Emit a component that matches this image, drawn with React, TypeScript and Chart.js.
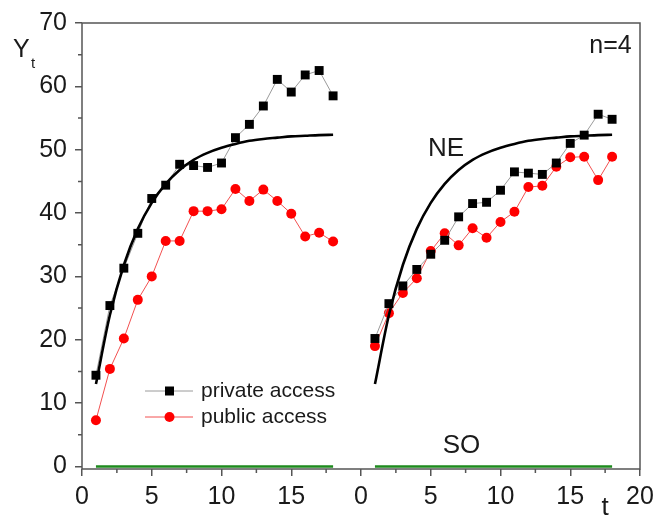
import React, { useEffect, useRef } from 'react';
import { Chart, registerables } from 'chart.js';
Chart.register(...registerables);

const FONT = '"Liberation Sans", Arial, Helvetica, sans-serif';

// time steps for each panel
const T = [1, 2, 3, 4, 5, 6, 7, 8, 9, 10, 11, 12, 13, 14, 15, 16, 17, 18];
// right panel is drawn on the same axis, shifted by this many units
const PANEL_OFFSET = 20;

const PRIVATE_LEFT = [14.4, 25.4, 31.3, 36.8, 42.3, 44.4, 47.7, 47.5, 47.2, 47.9, 51.9, 54.0, 56.9, 61.1, 59.1, 61.8, 62.5, 58.5];
const PUBLIC_LEFT = [7.3, 15.4, 20.2, 26.3, 30.0, 35.6, 35.6, 40.3, 40.3, 40.6, 43.8, 41.9, 43.7, 41.9, 39.9, 36.3, 36.9, 35.5];
const PRIVATE_RIGHT = [20.2, 25.7, 28.5, 31.1, 33.5, 35.7, 39.4, 41.5, 41.7, 43.6, 46.5, 46.3, 46.1, 47.9, 51.0, 52.3, 55.6, 54.8];
const PUBLIC_RIGHT = [19.0, 24.2, 27.4, 29.7, 34.0, 36.8, 34.9, 37.6, 36.1, 38.6, 40.2, 44.1, 44.3, 47.3, 48.8, 48.9, 45.2, 48.9];
const NE_CURVE = [13.0, 23.9, 31.8, 37.5, 41.6, 44.6, 46.8, 48.4, 49.5, 50.3, 50.9, 51.4, 51.7, 51.9, 52.1, 52.2, 52.3, 52.35];
const SO_LEVEL = [0, 0, 0, 0, 0, 0, 0, 0, 0, 0, 0, 0, 0, 0, 0, 0, 0, 0];

const Y_TICKS = [0, 10, 20, 30, 40, 50, 60, 70];
const Y_MINOR = [5, 15, 25, 35, 45, 55, 65];
const X_MINOR = [2.5, 7.5, 12.5, 17.5, 22.5, 27.5, 32.5, 37.5];

function panelPoints(left: number[], right: number[]) {
  return [
    ...T.map((t, i) => ({ x: t, y: left[i] })),
    { x: (T[T.length - 1] + PANEL_OFFSET + T[0]) / 2, y: null as any },
    ...T.map((t, i) => ({ x: t + PANEL_OFFSET, y: right[i] })),
  ];
}

export default function App() {
  const ref = useRef<HTMLCanvasElement>(null);
  useEffect(() => {
    document.body.style.margin = '0';
    const canvas = ref.current!;

    const overlay = {
      id: 'overlay',
      afterDraw(chart: any) {
        const { ctx, chartArea } = chart;
        const xs = chart.scales.x;
        const ys = chart.scales.y;
        ctx.save();
        // frame
        ctx.strokeStyle = '#555';
        ctx.lineWidth = 1.5;
        ctx.strokeRect(chartArea.left, chartArea.top, chartArea.right - chartArea.left, chartArea.bottom - chartArea.top);
        // minor ticks
        ctx.beginPath();
        X_MINOR.forEach((v) => {
          const px = xs.getPixelForValue(v);
          ctx.moveTo(px, chartArea.bottom);
          ctx.lineTo(px, chartArea.bottom + 4);
        });
        Y_MINOR.forEach((v) => {
          const py = ys.getPixelForValue(v);
          ctx.moveTo(chartArea.left, py);
          ctx.lineTo(chartArea.left - 4, py);
        });
        ctx.stroke();

        ctx.fillStyle = '#1a1a1a';
        ctx.textBaseline = 'alphabetic';
        // y title
        ctx.textAlign = 'left';
        ctx.font = `25px ${FONT}`;
        ctx.fillText('Y', 13, 57);
        ctx.font = `15px ${FONT}`;
        ctx.fillText('t', 31, 68);
        // x title
        ctx.textAlign = 'center';
        ctx.font = `26px ${FONT}`;
        ctx.fillText('t', 605, 515);

        // annotations
        ctx.textBaseline = 'middle';
        ctx.font = `25px ${FONT}`;
        ctx.textAlign = 'right';
        ctx.fillText('n=4', xs.getPixelForValue(39.4), ys.getPixelForValue(66.3));
        ctx.font = `26px ${FONT}`;
        ctx.textAlign = 'center';
        ctx.fillText('NE', xs.getPixelForValue(26.1), ys.getPixelForValue(50.2));
        ctx.fillText('SO', xs.getPixelForValue(27.2), ys.getPixelForValue(3.2));

        // legend
        const items = [chart.data.datasets[0], chart.data.datasets[1]];
        items.forEach((ds: any, i: number) => {
          const cy = 391 + i * 26;
          ctx.strokeStyle = ds.borderColor;
          ctx.lineWidth = 1;
          ctx.beginPath();
          ctx.moveTo(145, cy);
          ctx.lineTo(193, cy);
          ctx.stroke();
          ctx.fillStyle = ds.pointBackgroundColor;
          if (ds.pointStyle === 'rect') {
            ctx.fillRect(165, cy - 4.5, 9, 9);
          } else {
            ctx.beginPath();
            ctx.arc(169.5, cy, 5, 0, Math.PI * 2);
            ctx.fill();
          }
          ctx.fillStyle = '#1a1a1a';
          ctx.textAlign = 'left';
          ctx.textBaseline = 'middle';
          ctx.font = `21px ${FONT}`;
          ctx.fillText(ds.label, 201, cy);
        });
        ctx.restore();
      },
    };

    const chart = new Chart(canvas, {
      type: 'line',
      data: {
        datasets: [
          {
            label: 'private access',
            data: panelPoints(PRIVATE_LEFT, PRIVATE_RIGHT),
            borderColor: '#9a9a9a',
            borderWidth: 1,
            pointStyle: 'rect',
            pointRadius: 6.3,
            pointBackgroundColor: '#000',
            pointBorderWidth: 0,
            spanGaps: false,
            order: 2,
          },
          {
            label: 'public access',
            data: panelPoints(PUBLIC_LEFT, PUBLIC_RIGHT),
            borderColor: '#f25050',
            borderWidth: 1,
            pointStyle: 'circle',
            pointRadius: 5,
            pointBackgroundColor: '#ff0000',
            pointBorderWidth: 0,
            spanGaps: false,
            order: 3,
          },
          {
            label: 'NE',
            data: panelPoints(NE_CURVE, NE_CURVE),
            borderColor: '#000',
            borderWidth: 2.6,
            pointRadius: 0,
            cubicInterpolationMode: 'monotone',
            spanGaps: false,
            order: 1,
          },
          {
            label: 'SO',
            data: panelPoints(SO_LEVEL, SO_LEVEL),
            borderColor: '#1e8a1e',
            borderWidth: 2.6,
            pointRadius: 0,
            spanGaps: false,
            order: 4,
          },
        ],
      },
      options: {
        responsive: false,
        animation: false,
        layout: { padding: { top: 20, right: 28, left: 0, bottom: 0 } },
        plugins: { legend: { display: false }, tooltip: { enabled: false } },
        scales: {
          x: {
            type: 'linear',
            min: 0,
            max: 40,
            afterFit: (s: any) => { s.height = 50; },
            border: { display: false },
            grid: { drawOnChartArea: false, drawTicks: true, tickLength: 7, color: '#555', lineWidth: 1.5 },
            ticks: {
              stepSize: 5,
              autoSkip: false,
              maxRotation: 0,
              padding: 6,
              color: '#1a1a1a',
              font: { size: 25, family: FONT },
              callback: (v: any) => (v === 40 ? '20' : String(Number(v) % PANEL_OFFSET)),
            },
          },
          y: {
            type: 'linear',
            min: -0.4,
            max: 70,
            afterFit: (s: any) => { s.width = 82; },
            afterBuildTicks: (s: any) => { s.ticks = Y_TICKS.map((v) => ({ value: v })); },
            border: { display: false },
            grid: { drawOnChartArea: false, drawTicks: true, tickLength: 7, color: '#555', lineWidth: 1.5 },
            ticks: {
              padding: 8,
              color: '#1a1a1a',
              font: { size: 25, family: FONT },
            },
          },
        },
      },
      plugins: [overlay],
    } as any);
    return () => chart.destroy();
  }, []);
  return (
    <div style={{ width: 668, height: 519 }}>
      <canvas ref={ref} width={668} height={519} style={{ display: 'block' }} />
    </div>
  );
}
